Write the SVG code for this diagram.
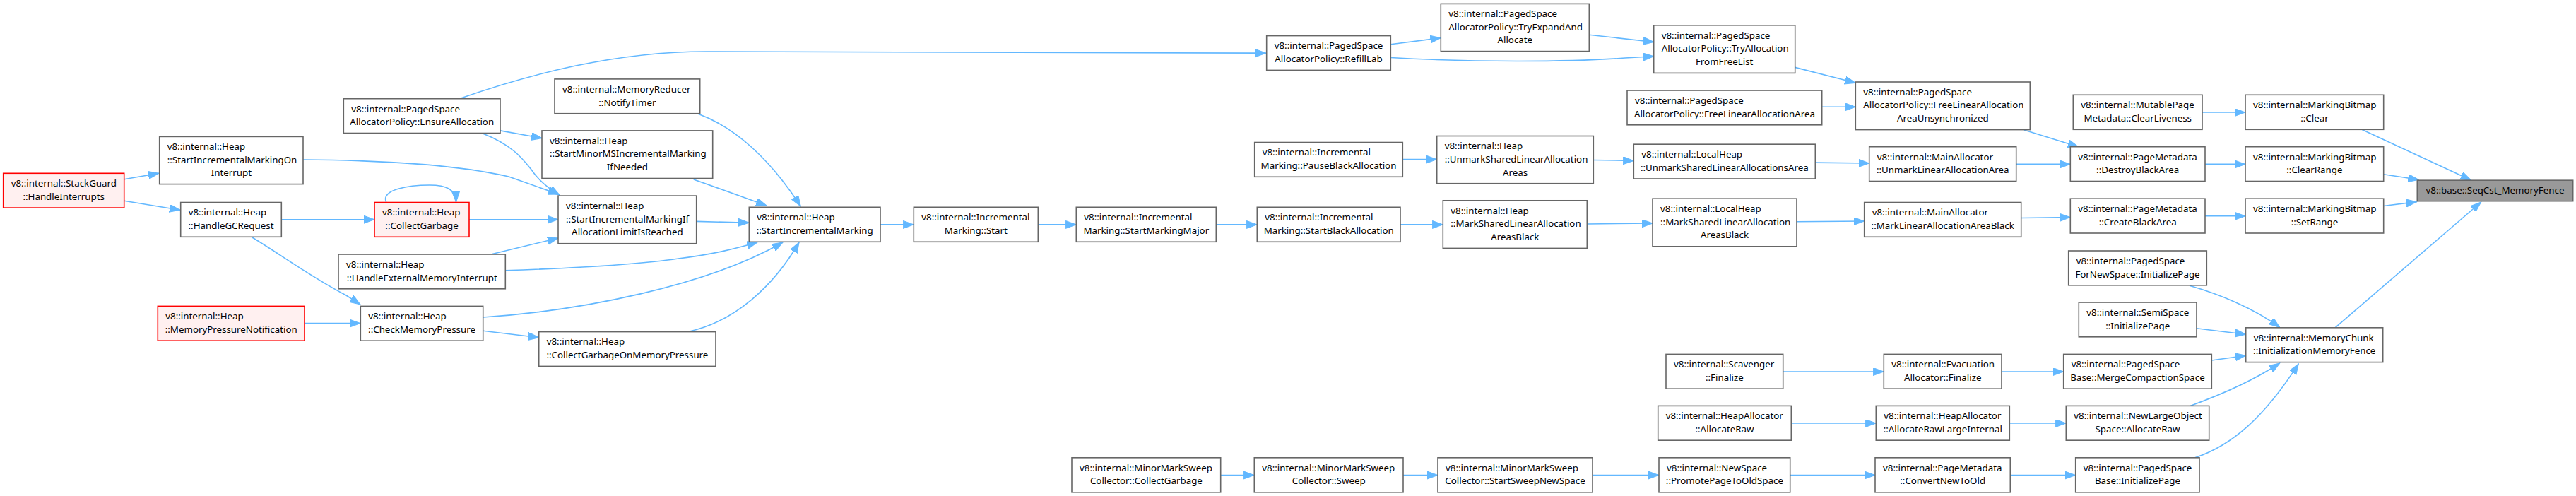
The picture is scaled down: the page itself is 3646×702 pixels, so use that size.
<svg xmlns="http://www.w3.org/2000/svg" width="3646" height="702" viewBox="0 0 3646 702">
<defs>
<style>
text{font-family:"Noto Sans","Liberation Sans",Arial,sans-serif;font-size:13.33px;fill:#000}
.m{text-anchor:middle}
.n rect{fill:#fff;stroke:#666;stroke-width:1.6}
.r rect{fill:#fff0f0;stroke:#f00;stroke-width:1.6}
.root rect{fill:#999;stroke:#666;stroke-width:1.6}
#edges path{fill:none;stroke:#63b8ff;stroke-width:1.6;marker-end:url(#ah)}
</style>
<marker id="ah" markerUnits="userSpaceOnUse" markerWidth="16" markerHeight="12" refX="15" refY="5.5" orient="auto"><path d="M0,0 L15,5.5 L0,11 Z" fill="#63b8ff" stroke="#63b8ff" stroke-width="1"/></marker>
</defs>
<rect width="3646" height="702" fill="#fff"/>
<g id="edges">
<path d="M175.7,253.8 L225,245.3"/>
<path d="M175.7,284.3 L255,297.3"/>
<path d="M429,226 C560,227 660,236 720,250 L791,275"/>
<path d="M398.3,310.7 L530,310.7"/>
<path d="M357,336 C400,362 440,392 490,418 L510,431"/>
<path d="M431,457.6 L510,457.6"/>
<path d="M650,139.7 C750,105 870,73 1000,73 L1792,75.2"/>
<path d="M708,184.9 L767,195.6"/>
<path d="M683.3,188.9 C725,205 740,225 752,240 C762,255 775,266 792,276"/>
<path d="M546.7,286.5 C538,268 580,262 608,262 C632,262 645,268 645.5,286"/>
<path d="M664,310.7 L790,310.7"/>
<path d="M696.7,359.5 L790,337"/>
<path d="M715.3,382.8 C800,380 900,375 960,366 C1010,360 1040,352 1072,343"/>
<path d="M683.7,449 C820,440 1000,405 1108,343"/>
<path d="M975,469.2 C1040,455 1095,405 1131,343"/>
<path d="M988.3,161.2 C1040,180 1090,225 1133.3,292"/>
<path d="M981.7,253.9 L1085,291"/>
<path d="M985.7,313.4 L1060,315.2"/>
<path d="M683.7,468.3 L762.7,477.7"/>
<path d="M1246,317.9 L1293.3,317.9"/>
<path d="M1469.3,317.9 L1523.3,317.9"/>
<path d="M1721.3,317.9 L1779.3,317.9"/>
<path d="M1727.7,672.5 L1775.3,672.5"/>
<path d="M1968.3,62.7 L2039.3,53.7"/>
<path d="M1968.3,81.5 C2080,88 2220,88 2300,82 L2340.7,79.7"/>
<path d="M2249.3,49.2 L2340.7,59.5"/>
<path d="M1985.3,225.6 L2033.7,225.6"/>
<path d="M1982,317.9 L2042.3,317.9"/>
<path d="M1986,672.5 L2035,672.5"/>
<path d="M2255.3,226.5 L2312.3,227.4"/>
<path d="M2246.3,317 L2339,316"/>
<path d="M2254,672.5 L2348,672.5"/>
<path d="M2540.7,95.4 L2626.3,117.3"/>
<path d="M2578.7,151.3 L2626.3,151.3"/>
<path d="M2569.3,230.1 L2645.7,231"/>
<path d="M2543,313.8 L2638.7,313"/>
<path d="M2523.7,526 L2666.3,526"/>
<path d="M2535.3,599 L2655.3,599"/>
<path d="M2533.7,672.5 L2654,672.5"/>
<path d="M2865,184 L2941.7,207.7"/>
<path d="M2853.7,232.4 L2930.3,232.4"/>
<path d="M2860.7,308.5 L2930.3,307.6"/>
<path d="M2833,526 L2920.7,526"/>
<path d="M2844.3,599 L2924.3,599"/>
<path d="M2845.3,672.5 L2937.7,672.5"/>
<path d="M3117,159 L3178,159"/>
<path d="M3121,232.4 L3178,232.4"/>
<path d="M3121,305.8 L3178,305.8"/>
<path d="M3099,404.3 C3140,416 3190,436 3226.7,463.4"/>
<path d="M3109,464.7 L3178.7,473.2"/>
<path d="M3130.3,510 L3178.7,503.2"/>
<path d="M3100,574.4 C3140,560 3190,538 3226.7,514"/>
<path d="M3106.7,647.8 C3160,630 3205,590 3253.3,514.9"/>
<path d="M3343.3,183.6 L3497.5,255"/>
<path d="M3373.7,246.7 L3423.3,254.3"/>
<path d="M3373.7,291.5 L3420.7,285.6"/>
<path d="M3305,463.8 L3511.7,286"/>
</g>
<g id="n1" class="r"><rect x="4.7" y="245.3" width="171" height="48.8"/><text x="15.7" y="264.1">v8::internal::StackGuard</text><text class="m" x="90.2" y="282.9">::HandleInterrupts</text></g>
<g id="n2" class="n"><rect x="225.7" y="193.4" width="203.3" height="67.2"/><text x="236.7" y="212.2">v8::internal::Heap</text><text x="236.7" y="230.8">::StartIncrementalMarkingOn</text><text class="m" x="327.3" y="249.4">Interrupt</text></g>
<g id="n3" class="n"><rect x="255.7" y="286.5" width="142.6" height="48.8"/><text x="266.7" y="305.3">v8::internal::Heap</text><text class="m" x="327" y="324.1">::HandleGCRequest</text></g>
<g id="n4" class="r"><rect x="223.3" y="433.4" width="207.7" height="48.8"/><text x="234.3" y="452.2">v8::internal::Heap</text><text class="m" x="327.2" y="471">::MemoryPressureNotification</text></g>
<g id="n5" class="n"><rect x="486.3" y="139.7" width="221.7" height="48.8"/><text x="497.3" y="158.5">v8::internal::PagedSpace</text><text class="m" x="597.2" y="177.3">AllocatorPolicy::EnsureAllocation</text></g>
<g id="n6" class="r"><rect x="530" y="286.5" width="134" height="48.8"/><text x="541" y="305.3">v8::internal::Heap</text><text class="m" x="597" y="324.1">::CollectGarbage</text></g>
<g id="n7" class="n"><rect x="479" y="360" width="236.3" height="48.8"/><text x="490" y="378.8">v8::internal::Heap</text><text class="m" x="597.2" y="397.6">::HandleExternalMemoryInterrupt</text></g>
<g id="n8" class="n"><rect x="510.3" y="433.4" width="173.4" height="48.8"/><text x="521.3" y="452.2">v8::internal::Heap</text><text class="m" x="597" y="471">::CheckMemoryPressure</text></g>
<g id="n9" class="n"><rect x="785" y="111.9" width="205.7" height="48.8"/><text x="796" y="130.7">v8::internal::MemoryReducer</text><text class="m" x="887.9" y="149.5">::NotifyTimer</text></g>
<g id="n10" class="n"><rect x="767" y="184.9" width="241.7" height="67.6"/><text x="778" y="203.7">v8::internal::Heap</text><text x="778" y="222.3">::StartMinorMSIncrementalMarking</text><text class="m" x="887.9" y="240.9">IfNeeded</text></g>
<g id="n11" class="n"><rect x="790" y="277.1" width="195.7" height="67.6"/><text x="801" y="295.9">v8::internal::Heap</text><text x="801" y="314.5">::StartIncrementalMarkingIf</text><text class="m" x="887.9" y="333.1">AllocationLimitIsReached</text></g>
<g id="n12" class="n"><rect x="762.7" y="469.6" width="250.3" height="48.8"/><text x="773.7" y="488.4">v8::internal::Heap</text><text class="m" x="887.9" y="507.2">::CollectGarbageOnMemoryPressure</text></g>
<g id="n13" class="n"><rect x="1060.3" y="293.3" width="185.7" height="49"/><text x="1071.3" y="312.1">v8::internal::Heap</text><text class="m" x="1153.2" y="330.9">::StartIncrementalMarking</text></g>
<g id="n14" class="n"><rect x="1293.3" y="293.3" width="176" height="49"/><text x="1304.3" y="312.1">v8::internal::Incremental</text><text class="m" x="1381.3" y="330.9">Marking::Start</text></g>
<g id="n15" class="n"><rect x="1523.3" y="293.3" width="198" height="49"/><text x="1534.3" y="312.1">v8::internal::Incremental</text><text class="m" x="1622.3" y="330.9">Marking::StartMarkingMajor</text></g>
<g id="n16" class="n"><rect x="1779.3" y="293.3" width="202.7" height="49"/><text x="1790.3" y="312.1">v8::internal::Incremental</text><text class="m" x="1880.7" y="330.9">Marking::StartBlackAllocation</text></g>
<g id="n17" class="n"><rect x="1775.7" y="201.5" width="209.6" height="48.8"/><text x="1786.7" y="220.3">v8::internal::Incremental</text><text class="m" x="1880.5" y="239.1">Marking::PauseBlackAllocation</text></g>
<g id="n18" class="n"><rect x="1792.7" y="50.6" width="175.6" height="48.8"/><text x="1803.7" y="69.4">v8::internal::PagedSpace</text><text class="m" x="1880.5" y="88.2">AllocatorPolicy::RefillLab</text></g>
<g id="n19" class="n"><rect x="1517" y="647.8" width="210.7" height="49"/><text x="1528" y="666.6">v8::internal::MinorMarkSweep</text><text class="m" x="1622.4" y="685.4">Collector::CollectGarbage</text></g>
<g id="n20" class="n"><rect x="1775.3" y="647.8" width="210.7" height="49"/><text x="1786.3" y="666.6">v8::internal::MinorMarkSweep</text><text class="m" x="1880.7" y="685.4">Collector::Sweep</text></g>
<g id="n21" class="n"><rect x="2039.3" y="5.4" width="210" height="67.2"/><text x="2050.3" y="24.2">v8::internal::PagedSpace</text><text x="2050.3" y="42.8">AllocatorPolicy::TryExpandAnd</text><text class="m" x="2144.3" y="61.4">Allocate</text></g>
<g id="n22" class="n"><rect x="2033.7" y="192.5" width="221.6" height="67.2"/><text x="2044.7" y="211.3">v8::internal::Heap</text><text x="2044.7" y="229.9">::UnmarkSharedLinearAllocation</text><text class="m" x="2144.5" y="248.5">Areas</text></g>
<g id="n23" class="n"><rect x="2042.3" y="283.8" width="204" height="67.6"/><text x="2053.3" y="302.6">v8::internal::Heap</text><text x="2053.3" y="321.2">::MarkSharedLinearAllocation</text><text class="m" x="2144.3" y="339.8">AreasBlack</text></g>
<g id="n24" class="n"><rect x="2035" y="647.8" width="219" height="49"/><text x="2046" y="666.6">v8::internal::MinorMarkSweep</text><text class="m" x="2144.5" y="685.4">Collector::StartSweepNewSpace</text></g>
<g id="n25" class="n"><rect x="2340.7" y="35.8" width="200" height="67.6"/><text x="2351.7" y="54.6">v8::internal::PagedSpace</text><text x="2351.7" y="73.2">AllocatorPolicy::TryAllocation</text><text class="m" x="2440.7" y="91.8">FromFreeList</text></g>
<g id="n26" class="n"><rect x="2303" y="128" width="275.7" height="48.8"/><text x="2314" y="146.8">v8::internal::PagedSpace</text><text class="m" x="2440.9" y="165.6">AllocatorPolicy::FreeLinearAllocationArea</text></g>
<g id="n27" class="n"><rect x="2312.3" y="204.2" width="257" height="48.8"/><text x="2323.3" y="223">v8::internal::LocalHeap</text><text class="m" x="2440.8" y="241.8">::UnmarkSharedLinearAllocationsArea</text></g>
<g id="n28" class="n"><rect x="2339" y="281.2" width="204" height="67.6"/><text x="2350" y="300">v8::internal::LocalHeap</text><text x="2350" y="318.6">::MarkSharedLinearAllocation</text><text class="m" x="2441" y="337.2">AreasBlack</text></g>
<g id="n29" class="n"><rect x="2358" y="501.4" width="165.7" height="48.8"/><text x="2369" y="520.2">v8::internal::Scavenger</text><text class="m" x="2440.9" y="539">::Finalize</text></g>
<g id="n30" class="n"><rect x="2346.7" y="574.4" width="188.6" height="48.8"/><text x="2357.7" y="593.2">v8::internal::HeapAllocator</text><text class="m" x="2441" y="612">::AllocateRaw</text></g>
<g id="n31" class="n"><rect x="2348" y="647.8" width="185.7" height="49"/><text x="2359" y="666.6">v8::internal::NewSpace</text><text class="m" x="2440.9" y="685.4">::PromotePageToOldSpace</text></g>
<g id="n32" class="n"><rect x="2626.3" y="116" width="247" height="67.6"/><text x="2637.3" y="134.8">v8::internal::PagedSpace</text><text x="2637.3" y="153.4">AllocatorPolicy::FreeLinearAllocation</text><text class="m" x="2749.8" y="172">AreaUnsynchronized</text></g>
<g id="n33" class="n"><rect x="2645.7" y="207.7" width="208" height="48.8"/><text x="2656.7" y="226.5">v8::internal::MainAllocator</text><text class="m" x="2749.7" y="245.3">::UnmarkLinearAllocationArea</text></g>
<g id="n34" class="n"><rect x="2638.7" y="286.5" width="222" height="48.8"/><text x="2649.7" y="305.3">v8::internal::MainAllocator</text><text class="m" x="2749.7" y="324.1">::MarkLinearAllocationAreaBlack</text></g>
<g id="n35" class="n"><rect x="2666.3" y="501.4" width="166.7" height="48.8"/><text x="2677.3" y="520.2">v8::internal::Evacuation</text><text class="m" x="2749.7" y="539">Allocator::Finalize</text></g>
<g id="n36" class="n"><rect x="2655.3" y="574.4" width="189" height="48.8"/><text x="2666.3" y="593.2">v8::internal::HeapAllocator</text><text class="m" x="2749.8" y="612">::AllocateRawLargeInternal</text></g>
<g id="n37" class="n"><rect x="2654" y="647.8" width="191.3" height="49"/><text x="2665" y="666.6">v8::internal::PageMetadata</text><text class="m" x="2749.7" y="685.4">::ConvertNewToOld</text></g>
<g id="n38" class="n"><rect x="2934.3" y="134.3" width="182.7" height="49"/><text x="2945.3" y="153.1">v8::internal::MutablePage</text><text class="m" x="3025.7" y="171.9">Metadata::ClearLiveness</text></g>
<g id="n39" class="n"><rect x="2930.3" y="207.7" width="190.7" height="48.8"/><text x="2941.3" y="226.5">v8::internal::PageMetadata</text><text class="m" x="3025.7" y="245.3">::DestroyBlackArea</text></g>
<g id="n40" class="n"><rect x="2930.3" y="281.2" width="190.7" height="48.8"/><text x="2941.3" y="300">v8::internal::PageMetadata</text><text class="m" x="3025.7" y="318.8">::CreateBlackArea</text></g>
<g id="n41" class="n"><rect x="2927.7" y="355" width="195.6" height="48.8"/><text x="2938.7" y="373.8">v8::internal::PagedSpace</text><text class="m" x="3025.5" y="392.6">ForNewSpace::InitializePage</text></g>
<g id="n42" class="n"><rect x="2942.3" y="428" width="166.7" height="48.8"/><text x="2953.3" y="446.8">v8::internal::SemiSpace</text><text class="m" x="3025.7" y="465.6">::InitializePage</text></g>
<g id="n43" class="n"><rect x="2920.7" y="501.4" width="209.6" height="48.8"/><text x="2931.7" y="520.2">v8::internal::PagedSpace</text><text class="m" x="3025.5" y="539">Base::MergeCompactionSpace</text></g>
<g id="n44" class="n"><rect x="2924.3" y="574.4" width="202.4" height="48.8"/><text x="2935.3" y="593.2">v8::internal::NewLargeObject</text><text class="m" x="3025.5" y="612">Space::AllocateRaw</text></g>
<g id="n45" class="n"><rect x="2937.7" y="647.8" width="175.3" height="49"/><text x="2948.7" y="666.6">v8::internal::PagedSpace</text><text class="m" x="3025.4" y="685.4">Base::InitializePage</text></g>
<g id="n46" class="n"><rect x="3178" y="134.3" width="195.7" height="49"/><text x="3189" y="153.1">v8::internal::MarkingBitmap</text><text class="m" x="3275.9" y="171.9">::Clear</text></g>
<g id="n47" class="n"><rect x="3178" y="207.7" width="195.7" height="48.8"/><text x="3189" y="226.5">v8::internal::MarkingBitmap</text><text class="m" x="3275.9" y="245.3">::ClearRange</text></g>
<g id="n48" class="n"><rect x="3178" y="281.2" width="195.7" height="48.8"/><text x="3189" y="300">v8::internal::MarkingBitmap</text><text class="m" x="3275.9" y="318.8">::SetRange</text></g>
<g id="n49" class="n"><rect x="3178.7" y="463.8" width="194" height="48.8"/><text x="3189.7" y="482.6">v8::internal::MemoryChunk</text><text class="m" x="3275.7" y="501.4">::InitializationMemoryFence</text></g>
<g id="n50" class="root"><rect x="3421.3" y="255.2" width="220.4" height="29.5"/><text class="m" x="3531.5" y="274.2">v8::base::SeqCst_MemoryFence</text></g>
</svg>
